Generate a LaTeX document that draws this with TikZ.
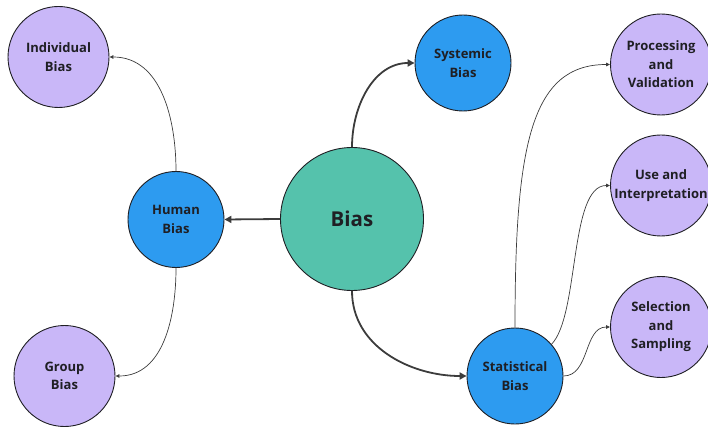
\documentclass[tikz,border=0pt]{standalone}
\usepackage{fontspec}
\setmainfont{Open Sans}
\usetikzlibrary{arrows.meta}
\definecolor{lav}{HTML}{C9B7F8}
\definecolor{sky}{HTML}{2D9BF0}
\definecolor{tealb}{HTML}{55C2AC}
\definecolor{ink}{HTML}{1F1F24}
\definecolor{wire}{HTML}{3C3C3C}
\begin{document}
\begin{tikzpicture}[x=1pt,y=-1pt,
 bub/.style={circle,draw=ink,line width=0.9pt,inner sep=0pt,align=center,font=\fontsize{13}{18.5}\selectfont\bfseries,text=ink},
 leaf/.style={bub,fill=lav,minimum size=101pt},
 mid/.style={bub,fill=sky,minimum size=96pt},
 heavy/.style={draw=wire,line width=1.8pt,-{Triangle[length=7pt,width=7pt]}},
 light/.style={draw=wire,line width=0.7pt,-{Triangle[length=4pt,width=3.5pt]}}]
\useasboundingbox (0,0) rectangle (708,427);
\node[leaf] (ind) at (58.5,57) {Individual\\Bias};
\node[mid] (sys) at (463,63) {Systemic\\Bias};
\node[leaf] (proc) at (661,64.5) {Processing\\and\\Validation};
\node[leaf] (use) at (661,185.5) {Use and\\Interpretation};
\node[leaf] (sel) at (661,327) {Selection\\and\\Sampling};
\node[mid] (stat) at (515,376) {Statistical\\Bias};
\node[mid] (hum) at (176,219.5) {Human\\Bias};
\node[bub,fill=tealb,minimum size=143pt,font=\fontsize{20.5}{24}\selectfont\bfseries] (bias) at (352,219) {Bias};
\node[leaf] (grp) at (64.5,376) {Group\\Bias};
\draw[heavy] (bias.west) -- (hum.east);
\draw[heavy] (bias.north) to[out=90,in=180] (sys.west);
\draw[heavy] (bias.south) to[out=-90,in=180] (stat.west);
\draw[light] (hum.north) to[out=90,in=0] (ind.east);
\draw[light] (hum.south) to[out=-90,in=0] (grp.east);
\draw[light] (stat.north) .. controls +(0,-180) and +(-80,0) .. (proc.west);
\draw[light] (stat.41) .. controls +(28,-29) and +(-41,0) .. (use.west);
\draw[light] (stat.east) to[out=0,in=180] (sel.west);
\end{tikzpicture}
\end{document}
